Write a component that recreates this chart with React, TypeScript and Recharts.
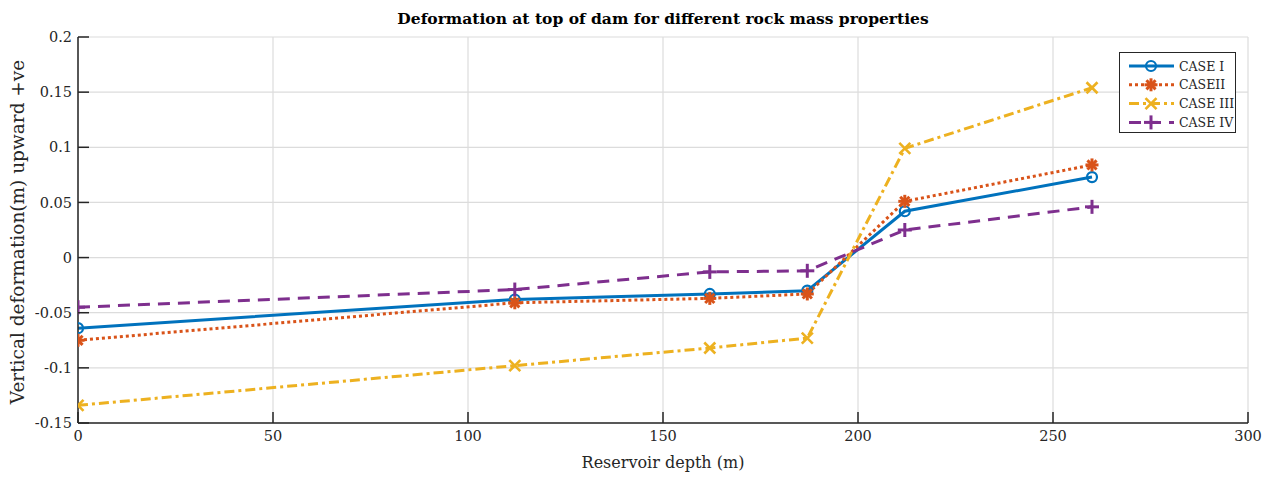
import React from 'react';
import { LineChart, Line, XAxis, YAxis, CartesianGrid } from 'recharts';

const depth = [0, 112, 162, 187, 212, 260];
const caseI = [-0.064, -0.038, -0.033, -0.03, 0.042, 0.073];
const caseII = [-0.075, -0.041, -0.037, -0.033, 0.051, 0.084];
const caseIII = [-0.134, -0.098, -0.082, -0.073, 0.099, 0.154];
const caseIV = [-0.045, -0.029, -0.013, -0.012, 0.025, 0.046];

const xTicks = [0, 50, 100, 150, 200, 250, 300];
const yTicks = [-0.15, -0.1, -0.05, 0, 0.05, 0.1, 0.15, 0.2];

const data = depth.map((d, i) => ({
  depth: d,
  c1: caseI[i],
  c2: caseII[i],
  c3: caseIII[i],
  c4: caseIV[i],
}));

const FONT = '"DejaVu Serif", serif';
const AXIS = '#262626';
const TICK_LEN = 11;
const TICK_GAP = 6;

const BLUE = '#0072BD';
const ORANGE = '#D95319';
const YELLOW = '#EDB120';
const PURPLE = '#7E2F8E';

type MarkerKind = 'circle' | 'star' | 'cross' | 'plus';

const Marker = ({ kind, cx, cy, color }: { kind: MarkerKind; cx: number; cy: number; color: string }) => {
  if (kind === 'circle') {
    return <circle cx={cx} cy={cy} r={5} fill="none" stroke={color} strokeWidth={2.2} />;
  }
  if (kind === 'star') {
    const r = 6.5;
    const d = r * 0.707;
    return (
      <g stroke={color} strokeWidth={3}>
        <line x1={cx - r} y1={cy} x2={cx + r} y2={cy} />
        <line x1={cx} y1={cy - r} x2={cx} y2={cy + r} />
        <line x1={cx - d} y1={cy - d} x2={cx + d} y2={cy + d} />
        <line x1={cx - d} y1={cy + d} x2={cx + d} y2={cy - d} />
      </g>
    );
  }
  if (kind === 'cross') {
    const r = 5.5;
    return (
      <g stroke={color} strokeWidth={2.6}>
        <line x1={cx - r} y1={cy - r} x2={cx + r} y2={cy + r} />
        <line x1={cx - r} y1={cy + r} x2={cx + r} y2={cy - r} />
      </g>
    );
  }
  const r = 7;
  return (
    <g stroke={color} strokeWidth={3}>
      <line x1={cx - r} y1={cy} x2={cx + r} y2={cy} />
      <line x1={cx} y1={cy - r} x2={cx} y2={cy + r} />
    </g>
  );
};

const dotFor = (kind: MarkerKind, color: string) => (props: any) => {
  const { cx, cy, index } = props;
  return (
    <g key={`${kind}-${index}`}>
      <Marker kind={kind} cx={cx} cy={cy} color={color} />
    </g>
  );
};

const series = [
  { key: 'c1', name: 'CASE I', color: BLUE, dash: undefined, width: 3, kind: 'circle' as MarkerKind },
  { key: 'c2', name: 'CASEII', color: ORANGE, dash: '3 3', width: 3, kind: 'star' as MarkerKind },
  { key: 'c3', name: 'CASE III', color: YELLOW, dash: '10 4 3 4', width: 3, kind: 'cross' as MarkerKind },
  { key: 'c4', name: 'CASE IV', color: PURPLE, dash: '12 8', width: 3, kind: 'plus' as MarkerKind },
];

const fmt = (v: number) => String(Math.round(v * 100) / 100);

// MATLAB-style ticks: short marks pointing into the plot box
const LeftTick = (props: any) => {
  const { x, y, payload } = props;
  const ax = x + TICK_GAP;
  return (
    <g>
      <line x1={ax} x2={ax + TICK_LEN} y1={y} y2={y} stroke={AXIS} strokeWidth={1.5} />
      <text x={x} y={y} dy="0.35em" textAnchor="end" fontFamily={FONT} fontSize={14.5} fill={AXIS}>
        {fmt(payload.value)}
      </text>
    </g>
  );
};

const BottomTick = (props: any) => {
  const { x, y, payload } = props;
  const ay = y - TICK_GAP;
  return (
    <g>
      <line x1={x} x2={x} y1={ay} y2={ay - TICK_LEN} stroke={AXIS} strokeWidth={1.5} />
      <text x={x} y={y} dy="0.8em" textAnchor="middle" fontFamily={FONT} fontSize={14.5} fill={AXIS}>
        {payload.value}
      </text>
    </g>
  );
};

const TopTick = (props: any) => {
  const { x, y } = props;
  const ay = y + TICK_GAP;
  return <line x1={x} x2={x} y1={ay} y2={ay + TICK_LEN} stroke={AXIS} strokeWidth={1.5} />;
};

const RightTick = (props: any) => {
  const { x, y } = props;
  const ax = x - TICK_GAP;
  return <line x1={ax} x2={ax - TICK_LEN} y1={y} y2={y} stroke={AXIS} strokeWidth={1.5} />;
};

const LegendBox = () => (
  <div
    style={{
      position: 'absolute',
      left: 1119,
      top: 52,
      width: 117,
      height: 81,
      border: '1px solid #262626',
      background: '#fff',
      boxSizing: 'border-box',
    }}
  >
    <svg width={117} height={81}>
      {series.map((s, i) => {
        const y = 13 + i * 18.8;
        return (
          <g key={s.key}>
            <line x1={9} x2={54} y1={y} y2={y} stroke={s.color} strokeWidth={s.width} strokeDasharray={s.dash} />
            <Marker kind={s.kind} cx={31} cy={y} color={s.color} />
            <text x={59} y={y + 4.5} fontFamily={FONT} fontSize={12.5} fill={AXIS}>
              {s.name}
            </text>
          </g>
        );
      })}
    </svg>
  </div>
);

export default function App() {
  return (
    <div style={{ position: 'absolute', left: 0, top: 0, width: 1270, height: 479, background: '#fff' }}>
      <LineChart width={1270} height={479} data={data} margin={{ top: 37, right: 22, left: 0, bottom: 0 }}>
        <CartesianGrid stroke="#dcdcdc" strokeWidth={1.2} horizontalValues={yTicks} verticalValues={xTicks} />
        <XAxis
          dataKey="depth"
          type="number"
          domain={[0, 300]}
          ticks={xTicks}
          height={56}
          tickLine={false}
          tickSize={0}
          tickMargin={TICK_GAP}
          tick={<BottomTick />}
          stroke={AXIS}
          strokeWidth={1.5}
          allowDataOverflow
        />
        <XAxis
          xAxisId="top"
          orientation="top"
          dataKey="depth"
          type="number"
          domain={[0, 300]}
          ticks={xTicks}
          height={0}
          tickLine={false}
          tickSize={0}
          tickMargin={TICK_GAP}
          tick={<TopTick />}
          stroke={AXIS}
          strokeWidth={1.5}
        />
        <YAxis
          type="number"
          domain={[-0.15, 0.2]}
          ticks={yTicks}
          width={78}
          tickLine={false}
          tickSize={0}
          tickMargin={TICK_GAP}
          tick={<LeftTick />}
          stroke={AXIS}
          strokeWidth={1.5}
          allowDataOverflow
        />
        <YAxis
          yAxisId="right"
          orientation="right"
          type="number"
          domain={[-0.15, 0.2]}
          ticks={yTicks}
          width={0}
          tickLine={false}
          tickSize={0}
          tickMargin={TICK_GAP}
          tick={<RightTick />}
          stroke={AXIS}
          strokeWidth={1.5}
        />
        {series.map((s) => (
          <Line
            key={s.key}
            type="linear"
            dataKey={s.key}
            name={s.name}
            stroke={s.color}
            strokeWidth={s.width}
            strokeDasharray={s.dash}
            dot={dotFor(s.kind, s.color)}
            activeDot={false}
            isAnimationActive={false}
          />
        ))}
      </LineChart>
      <div
        style={{
          position: 'absolute',
          left: 78,
          width: 1170,
          top: 9,
          textAlign: 'center',
          fontFamily: FONT,
          fontSize: 15.5,
          fontWeight: 'bold',
          color: '#000',
        }}
      >
        Deformation at top of dam for different rock mass properties
      </div>
      <div
        style={{
          position: 'absolute',
          left: 78,
          width: 1170,
          top: 453,
          textAlign: 'center',
          fontFamily: FONT,
          fontSize: 16,
          color: AXIS,
        }}
      >
        Reservoir depth (m)
      </div>
      <div
        style={{
          position: 'absolute',
          left: 18 - 200,
          top: 232 - 12,
          width: 400,
          textAlign: 'center',
          transform: 'rotate(-90deg)',
          fontFamily: FONT,
          fontSize: 18.5,
          color: AXIS,
          lineHeight: '24px',
        }}
      >
        Vertical deformation(m) upward +ve
      </div>
      <LegendBox />
    </div>
  );
}
